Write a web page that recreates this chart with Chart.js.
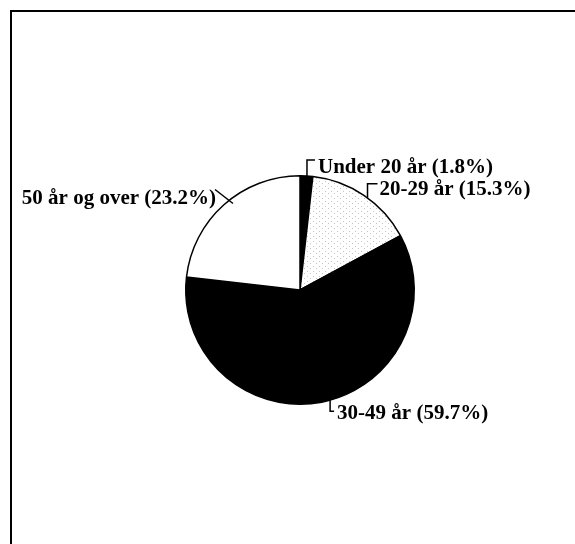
<!DOCTYPE html>
<html>
<head>
<meta charset="utf-8">
<script src="https://cdn.jsdelivr.net/npm/chart.js@4/dist/chart.umd.min.js"></script>
<style>
  html, body { margin: 0; background: #fff; }
  #wrap { position: relative; width: 575px; height: 544px; overflow: hidden; }
  #frame { position: absolute; left: 10px; top: 10px; right: -4px; bottom: -4px;
           border-top: 2px solid #000; border-left: 2px solid #000; }
  canvas { position: absolute; left: 0; top: 0; }
</style>
</head>
<body>
<div id="wrap">
  <div id="frame"></div>
  <canvas id="ageChart" width="575" height="544"></canvas>
</div>
<script>
// Age groups and their share (%)
const groups = ["Under 20 år", "20-29 år", "30-49 år", "50 år og over"];
const shares = [1.8, 15.3, 59.7, 23.2];

// Leader line / label placement, relative to a point on the slice edge
const leaders = [
  { at: 0.54, from: [0, 0], path: [[0, -16], [8, -16]], text: [11, -8], align: "left" },
  { at: 0.54, from: [0, 0], path: [[0, -14], [10, -14]], text: [12, -8], align: "left" },
  { at: 0.48, from: [0, 0], path: [[0, 11], [4, 11]], text: [7, 13], align: "left" },
  { at: 0.54, from: [4, 3], path: [[-14, -11]], text: [-13, -2], align: "right" }
];

// sparse light stipple for the 20-29 slice
function stipple() {
  const c = document.createElement("canvas");
  c.width = 6; c.height = 5;
  const g = c.getContext("2d");
  g.fillStyle = "#fff";
  g.fillRect(0, 0, 6, 5);
  g.fillStyle = "#c4c4c4";
  g.fillRect(1, 1, 1, 1);
  g.fillRect(4, 3, 1, 1);
  return g.createPattern(c, "repeat");
}

const leaderPlugin = {
  id: "leaders",
  afterDatasetsDraw(chart) {
    const ctx = chart.ctx;
    const arcs = chart.getDatasetMeta(0).data;
    ctx.save();
    ctx.strokeStyle = "#000";
    ctx.lineWidth = 1.5;
    ctx.fillStyle = "#000";
    ctx.font = "bold 21px 'Liberation Serif', 'Times New Roman', serif";
    ctx.textBaseline = "middle";
    arcs.forEach((arc, i) => {
      const p = arc.getProps(["x", "y", "startAngle", "endAngle", "outerRadius"], true);
      const l = leaders[i];
      const a = p.startAngle + (p.endAngle - p.startAngle) * l.at;
      const ax = p.x + Math.cos(a) * p.outerRadius;
      const ay = p.y + Math.sin(a) * p.outerRadius;
      ctx.beginPath();
      ctx.moveTo(ax + l.from[0], ay + l.from[1]);
      l.path.forEach(pt => ctx.lineTo(ax + pt[0], ay + pt[1]));
      ctx.stroke();
      ctx.textAlign = l.align;
      ctx.fillText(groups[i] + " (" + shares[i].toFixed(1) + "%)", ax + l.text[0], ay + l.text[1]);
    });
    ctx.restore();
  }
};

new Chart(document.getElementById("ageChart"), {
  type: "pie",
  data: {
    labels: groups,
    datasets: [{
      data: shares,
      backgroundColor: ["#000", stipple(), "#000", "#fff"],
      borderColor: "#000",
      borderWidth: 1.5
    }]
  },
  options: {
    responsive: false,
    animation: false,
    layout: { padding: { left: 185, right: 160, top: 175, bottom: 139 } },
    plugins: {
      legend: { display: false },
      tooltip: { enabled: false }
    }
  },
  plugins: [leaderPlugin]
});
</script>
</body>
</html>
